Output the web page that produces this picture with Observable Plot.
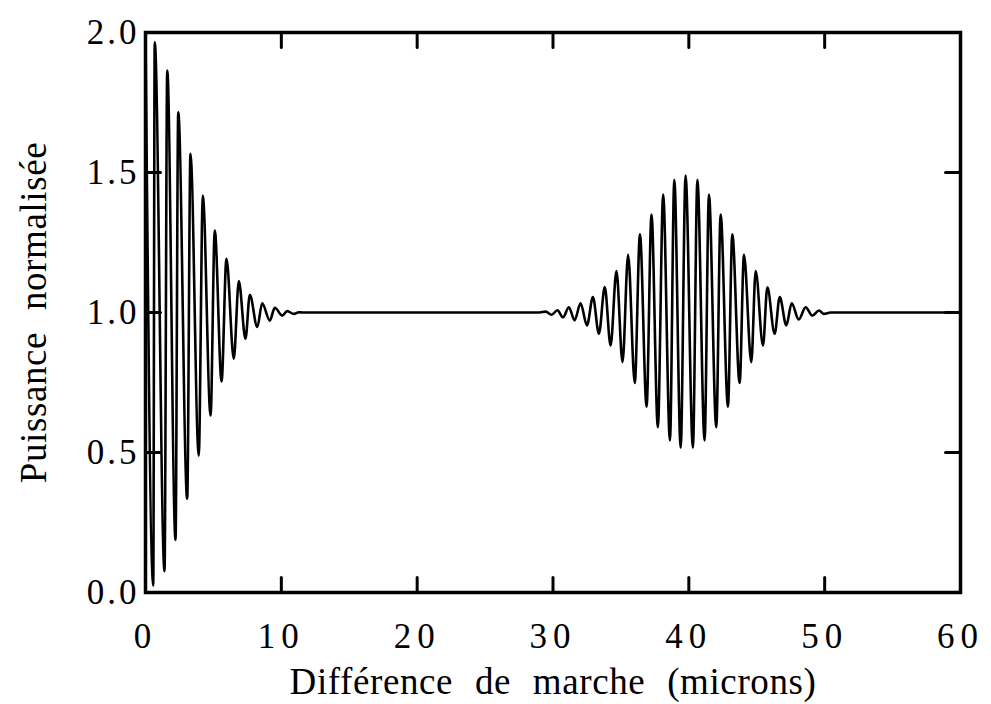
<!DOCTYPE html>
<html>
<head>
<meta charset="utf-8">
<script src="https://cdn.jsdelivr.net/npm/d3@7"></script>
<script src="https://cdn.jsdelivr.net/npm/@observablehq/plot@0.6"></script>
<style>
  html, body { margin: 0; padding: 0; background: #fff; }
  #chart svg { display: block; }
  g[aria-label="x-axis tick label"] text { letter-spacing: 6px; }
  g[aria-label="y-axis tick label"] text { letter-spacing: 3px; }
  g[aria-label="x-axis label"] text, g[aria-label="y-axis label"] text { letter-spacing: 0.6px; word-spacing: 12px; }
</style>
</head>
<body>
<div id="chart"></div>
<script>
// Turning points of the interferogram: path difference (microns)
const pathDifference = [
  0, 0.57, 0.68, 1.40, 1.60, 2.21, 2.41, 3.07, 3.31, 3.92, 4.22, 4.79, 5.10, 5.60, 5.96,
  6.50, 6.87, 7.36, 7.68, 8.23, 8.59, 9.15, 9.52, 10.07, 10.43, 10.92, 11.29, 11.56,
  29.01, 29.46, 29.90, 30.32, 30.74, 31.17, 31.59, 32.03, 32.50, 32.94, 33.38, 33.81,
  34.24, 34.67, 35.12, 35.53, 36.02, 36.40, 36.89, 37.25, 37.72, 38.11, 38.61, 38.93,
  39.40, 39.76, 40.30, 40.63, 41.16, 41.48, 42.02, 42.34, 42.88, 43.20, 43.74, 44.06,
  44.60, 44.92, 45.46, 45.78, 46.32, 46.69, 47.18, 47.57, 48.09, 48.60, 49.09, 49.58,
  49.93, 50.44, 60
];
// Normalised power at those turning points
const normalisedPower = [
  2.0, 0.025, 1.965, 0.076, 1.864, 0.188, 1.715, 0.335, 1.567, 0.489, 1.418, 0.632, 1.293, 0.754, 1.192,
  0.835, 1.112, 0.906, 1.063, 0.948, 1.033, 0.971, 1.017, 0.989, 1.005, 0.995, 1.001, 1.0,
  1.0, 1.003, 0.992, 1.008, 0.983, 1.019, 0.972, 1.033, 0.954, 1.055, 0.924, 1.091,
  0.882, 1.148, 0.823, 1.206, 0.748, 1.279, 0.664, 1.35, 0.59, 1.421, 0.543, 1.474,
  0.517, 1.489, 0.517, 1.474, 0.543, 1.421, 0.59, 1.35, 0.664, 1.279, 0.748, 1.206,
  0.823, 1.148, 0.882, 1.09, 0.924, 1.055, 0.954, 1.033, 0.975, 1.019, 0.989, 1.007,
  0.995, 1.0, 1.0
];
const xTicks = [0, 10, 20, 30, 40, 50, 60];
const yTicks = [0, 0.5, 1.0, 1.5, 2.0];
const xTitle = "Différence de marche (microns)";
const yTitle = "Puissance normalisée";

const signal = pathDifference.map((x, i) => ({x, y: normalisedPower[i]}));

// inner tick positions (the frame already marks the domain ends)
const xInner = xTicks.slice(1, -1);
const yInner = yTicks.slice(1, -1);

// a plain straight stroke for the inward tick marks
const stroke = {draw(context, l) { context.moveTo(0, 0); context.lineTo(0, -l); }};
const tickStyle = {length: 15, anchor: "start", shape: stroke, stroke: "#000", strokeWidth: 3};

const serif = "'Liberation Serif', 'Times New Roman', serif";

const chart = Plot.plot({
  width: 991,
  height: 704,
  marginLeft: 145,
  marginRight: 31,
  marginTop: 32,
  marginBottom: 112,
  style: {fontFamily: serif, background: "#fff", color: "#000"},
  x: {domain: [0, 60]},
  y: {domain: [0, 2]},
  marks: [
    Plot.axisX({
      ticks: xTicks, tickSize: 0, tickPadding: 31, fontSize: 35,
      tickFormat: d3.format("d"),
      label: xTitle, labelAnchor: "center", labelArrow: "none", labelOffset: 101
    }),
    Plot.axisY({
      ticks: yTicks, tickSize: 0, tickPadding: 6, fontSize: 35,
      tickFormat: d3.format(".1f"),
      label: yTitle, labelAnchor: "center", labelArrow: "none", labelOffset: 126
    }),
    Plot.line(signal, {x: "x", y: "y", curve: "monotone-x", stroke: "#000", strokeWidth: 2.6}),
    Plot.vector(xInner, {x: d => d, frameAnchor: "bottom", rotate: 0, ...tickStyle}),
    Plot.vector(xInner, {x: d => d, frameAnchor: "top", rotate: 180, ...tickStyle}),
    Plot.vector(yInner, {y: d => d, frameAnchor: "left", rotate: 90, ...tickStyle}),
    Plot.vector(yInner, {y: d => d, frameAnchor: "right", rotate: -90, ...tickStyle}),
    Plot.frame({stroke: "#000", strokeWidth: 3.5})
  ]
});

// axis titles in the same serif face, larger than the default
chart.querySelectorAll('g[aria-label="x-axis label"] text, g[aria-label="y-axis label"] text')
  .forEach(t => t.setAttribute("font-size", 37));

document.getElementById("chart").append(chart);
</script>
</body>
</html>
